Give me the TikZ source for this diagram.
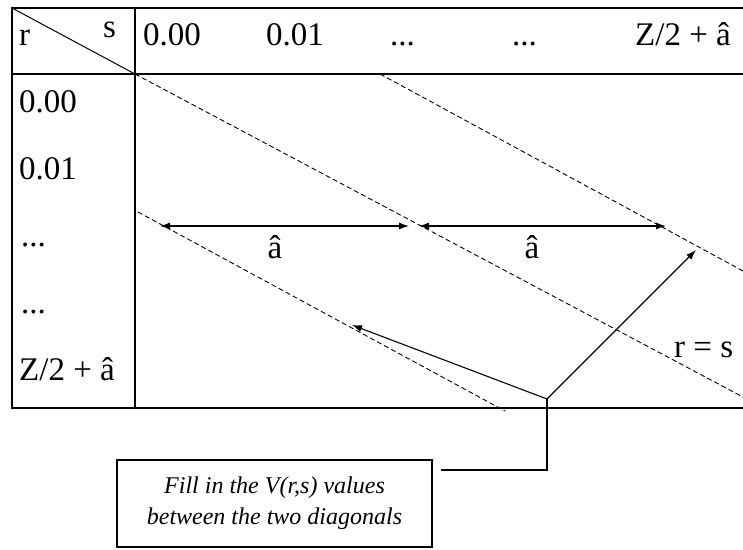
\documentclass[tikz,border=0pt]{standalone}
\usepackage{fontspec}
\setmainfont{Liberation Serif}
\usetikzlibrary{arrows.meta}
\begin{document}
\begin{tikzpicture}[x=1pt,y=-1pt,
  lbl/.style={font=\fontsize{33}{36}\selectfont, inner sep=0pt, anchor=base west},
  clbl/.style={font=\fontsize{33}{36}\selectfont, inner sep=0pt, anchor=base},
  frame/.style={line width=2pt},
  grid/.style={line width=1.3pt},
  dline/.style={dash pattern=on 5pt off 3pt, line width=0.9pt},
  tip/.style={line width=1.1pt, -{Latex[length=10pt,width=7pt]}},
  dtip/.style={line width=1.1pt, {Latex[length=10pt,width=7pt]}-{Latex[length=10pt,width=7pt]}},
  conn/.style={line width=1.1pt},
  notebox/.style={draw, line width=1.3pt, minimum width=315pt, minimum height=87pt, inner sep=0pt,
    align=center, font=\itshape\fontsize{24}{31}\selectfont}]
\useasboundingbox (0,0) rectangle (743,549);
% table frame
\coordinate (tl) at (12,8);
\coordinate (tr) at (743,8);
\coordinate (bl) at (12,408);
\coordinate (br) at (743,408);
\coordinate (hl) at (12,74);
\coordinate (hr) at (743,74);
\coordinate (corner) at (135,74);
\coordinate (ctop) at (135,8);
\coordinate (cbot) at (135,408);
\draw[frame] (tr) -- (tl) -- (bl) -- (br);
\draw[grid] (hl) -- (hr);
\draw[grid] (ctop) -- (cbot);
\draw[line width=1pt] (tl) -- (corner);
% header labels
\node[lbl] (r) at (19,45) {r};
\node[lbl] (s) at (103,37) {s};
\node[lbl] (c1) at (143,45) {0.00};
\node[lbl] (c2) at (266,45) {0.01};
\node[lbl] (c3) at (390,45) {...};
\node[lbl] (c4) at (512,45) {...};
\node[lbl] (c5) at (635,45) {Z/2 + â};
% row labels
\node[lbl] (r1) at (19,112) {0.00};
\node[lbl] (r2) at (19,179) {0.01};
\node[lbl] (r3) at (21,246) {...};
\node[lbl] (r4) at (21,313) {...};
\node[lbl] (r5) at (19,380) {Z/2 + â};
% diagonals
\coordinate (d1a) at (135,74);
\coordinate (d1b) at (743,397);
\coordinate (d2a) at (380,74);
\coordinate (d2b) at (743,271);
\coordinate (d3a) at (138,212);
\coordinate (d3b) at (505,411);
\draw[dline] (d1a) -- (d1b);
\draw[dline] (d2a) -- (d2b);
\draw[dline] (d3a) -- (d3b);
% width arrows
\coordinate (w1a) at (160,226);
\coordinate (w1b) at (409,226);
\coordinate (w2a) at (419,226);
\coordinate (w2b) at (666,226);
\draw[dtip] (w1a) -- (w1b);
\draw[dtip] (w2a) -- (w2b);
\node[clbl] (a1) at (275,258) {â};
\node[clbl] (a2) at (532,258) {â};
\node[lbl] (rs) at (674,357) {r = s};
% pointer
\coordinate (hub) at (547,399);
\coordinate (p1) at (696,250);
\coordinate (p2) at (352,325);
\node[notebox] (note) at (274.5,503.5) {Fill in the V(r,s) values\\between the two diagonals};
\coordinate (elbow) at (547,470);
\draw[tip] (hub) -- (p1);
\draw[tip] (hub) -- (p2);
\draw[conn] (note.east |- elbow) ++(8,0) coordinate (ne) -- (elbow) -- (hub);
\end{tikzpicture}
\end{document}
